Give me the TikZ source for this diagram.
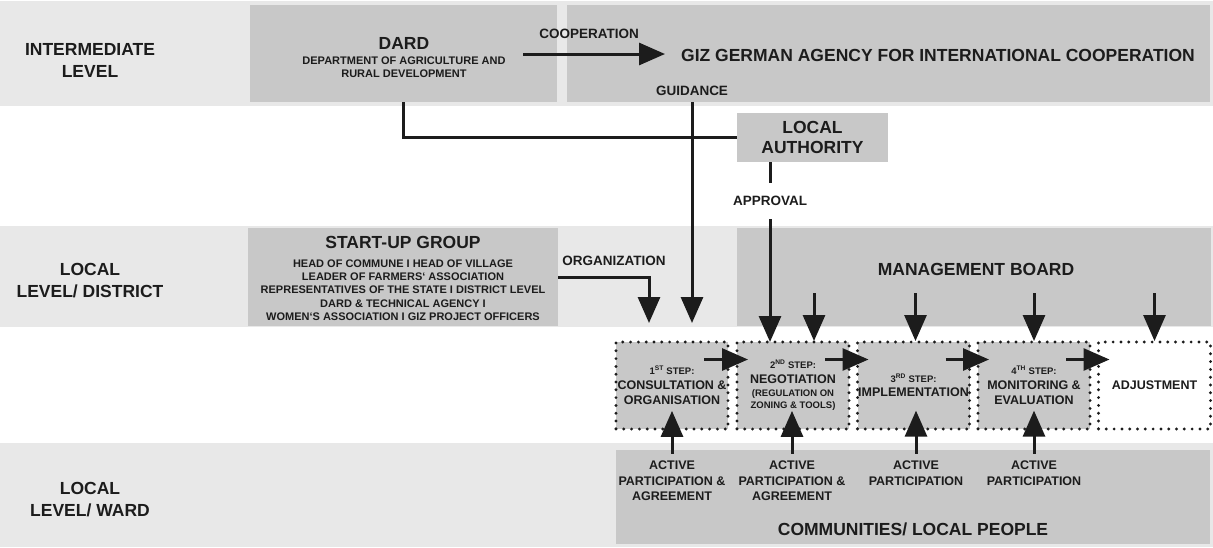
\documentclass[tikz,border=0pt]{standalone}
\usepackage{fontspec}
\setmainfont{Liberation Sans}
\usetikzlibrary{arrows.meta, positioning}
\definecolor{bandGrey}{HTML}{E8E8E8}
\definecolor{boxGrey}{HTML}{C8C8C8}
\definecolor{ink}{HTML}{1C1C1C}
\newcommand{\stepsmall}{\fontsize{9.5}{15}\selectfont}
\tikzset{
  band/.style     = {fill=bandGrey},
  box/.style      = {fill=boxGrey, inner sep=0pt, outer sep=0pt, anchor=north west},
  stepbox/.style  = {fill=boxGrey, draw=ink, line width=3.2pt, line cap=round,
                     dash pattern=on 0pt off 7.8pt, minimum width=112pt,
                     minimum height=87pt, inner sep=0pt, outer sep=0pt,
                     align=center, text=ink,
                     font=\fontsize{12.5}{15}\selectfont\bfseries},
  arr/.style      = {-{Triangle[length=26pt, width=22pt]}, line width=3pt, ink},
  link/.style     = {line width=3pt, ink},
  blbl/.style     = {font=\fontsize{17.5}{22}\selectfont\bfseries, text=ink,
                     align=center, inner sep=0pt},
  mlbl/.style     = {font=\fontsize{13.5}{16}\selectfont\bfseries, text=ink,
                     align=center, inner sep=0pt},
  slbl/.style     = {font=\fontsize{11}{13.3}\selectfont\bfseries, text=ink,
                     align=center, inner sep=0pt},
  albl/.style     = {font=\fontsize{12.5}{15.5}\selectfont\bfseries, text=ink,
                     align=center, inner sep=0pt},
}

\begin{document}
\begin{tikzpicture}[x=1pt, y=-1pt]
  \useasboundingbox (0,0) rectangle (1213,547);
  % level bands
  \fill[band] (0,1) rectangle (1213,106);
  \fill[band] (0,226) rectangle (1213,327);
  \fill[band] (0,443) rectangle (1213,547);
  \node[blbl] (intlvl) at (90,60) {INTERMEDIATE\\LEVEL};
  \node[blbl] (distlvl) at (90,281) {LOCAL\\LEVEL/ DISTRICT};
  \node[blbl] (wardlvl) at (90,500) {LOCAL\\LEVEL/ WARD};

  % intermediate level
  \node[box, minimum width=307pt, minimum height=97pt] (dard) at (250,5) {};
  \node[blbl] (dardname) at (404,43) {DARD};
  \node[slbl] (dardfull) at (404,67) {DEPARTMENT OF AGRICULTURE AND\\RURAL DEVELOPMENT};
  \node[box, minimum width=643pt, minimum height=97pt] (giz) at (567,5) {};
  \node[blbl] (gizname) at (938,55) {GIZ GERMAN AGENCY FOR INTERNATIONAL COOPERATION};
  \node[mlbl] (coop) at (589,34) {COOPERATION};
  \node[mlbl] (guide) at (692,91) {GUIDANCE};
  \coordinate (coopstart) at (523,54);
  \coordinate (coopend) at (665,54);
  \draw[arr] (coopstart) -- (coopend);

  % local authority
  \node[box, blbl, minimum width=151pt, minimum height=49pt] (auth) at (737,113) {LOCAL\\[-2pt]AUTHORITY};
  \node[mlbl, minimum height=36pt] (appr) at (770,201) {APPROVAL};
  \draw[link] (dard.south) |- (auth.west);
  \draw[link] (appr.north |- auth.south) -- (appr.north);

  % district level
  \node[box, minimum width=310pt, minimum height=98pt] (startup) at (248,228) {};
  \node[blbl] (sutitle) at (403,242) {START-UP GROUP};
  \node[slbl] (sumembers) at (403,290) {HEAD OF COMMUNE I HEAD OF VILLAGE\\
    LEADER OF FARMERS‘ ASSOCIATION\\
    REPRESENTATIVES OF THE STATE I DISTRICT LEVEL\\
    DARD \& TECHNICAL AGENCY I\\
    WOMEN‘S ASSOCIATION I GIZ PROJECT OFFICERS};
  \node[mlbl] (org) at (614,261) {ORGANIZATION};
  \node[box, minimum width=474pt, minimum height=98pt] (board) at (737,228) {};
  \node[blbl] (boardname) at (976,269) {MANAGEMENT BOARD};

  % steps
  \node[stepbox, anchor=north west] (s1) at (616,342)
    {{\stepsmall 1\textsuperscript{ST} STEP:}\\CONSULTATION \&\\ORGANISATION};
  \node[stepbox, right=9pt of s1] (s2)
    {{\stepsmall 2\textsuperscript{ND} STEP:}\\NEGOTIATION\\[-2pt]
     {\stepsmall (REGULATION ON}\\[-3pt]{\stepsmall ZONING \& TOOLS)}};
  \node[stepbox, right=8.5pt of s2] (s3)
    {{\stepsmall 3\textsuperscript{RD} STEP:}\\[-1pt]IMPLEMENTATION};
  \node[stepbox, right=8.5pt of s3] (s4)
    {{\stepsmall 4\textsuperscript{TH} STEP:}\\MONITORING \&\\EVALUATION};
  \node[stepbox, fill=white, right=8.5pt of s4] (adj) {ADJUSTMENT};

  % ward level
  \node[box, minimum width=594pt, minimum height=94pt] (comm) at (616,450) {};
  \node[blbl] (commname) at (913,529) {COMMUNITIES/ LOCAL PEOPLE};
  \node[albl] (act1) at (672,481) {ACTIVE\\PARTICIPATION \&\\AGREEMENT};
  \node[albl] (act2) at (792,481) {ACTIVE\\PARTICIPATION \&\\AGREEMENT};
  \node[albl] (act3) at (916,473) {ACTIVE\\PARTICIPATION};
  \node[albl] (act4) at (1034,473) {ACTIVE\\PARTICIPATION};

  % arrows
  \coordinate (guidetip) at (692,323);
  \coordinate (orgtip) at (649,323);
  \draw[arr] (guide.south |- giz.south) -- (guidetip);
  \draw[arr] (startup.east) -| (orgtip);
  \draw[arr] (appr.south) -- (appr.south |- s2.north);
  \foreach \s/\dx in {s2/21, s3/2, s4/0, adj/0}
    \draw[arr] (\s.north |- board.south) ++(\dx,-33) -- ++(0,48);
  \foreach \a/\b in {s1/s2, s2/s3, s3/s4, s4/adj}
    \draw[arr] ([xshift=-24pt, yshift=26pt]\a.east) -- ([xshift=11pt, yshift=26pt]\b.west);
  \foreach \a in {act1, act2, act3, act4}
    \draw[arr] (\a.north) ++(0,-7) -- ++(0,-43);
\end{tikzpicture}
\end{document}
